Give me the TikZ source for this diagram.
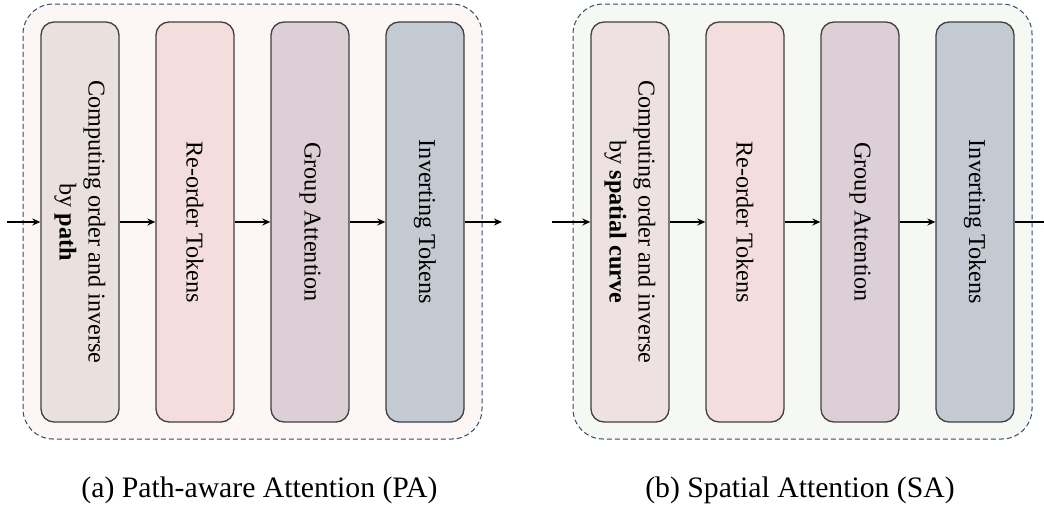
\documentclass[tikz,border=0pt]{standalone}
\usepackage{fontspec}
\setmainfont{Liberation Serif}
\usetikzlibrary{arrows.meta}

\definecolor{panelline}{HTML}{34496E}
\definecolor{bgpa}{HTML}{FCF6F4}
\definecolor{bgsa}{HTML}{F6F8F3}
\definecolor{boxline}{HTML}{404040}
\definecolor{orderpa}{HTML}{EAE0DD}
\definecolor{ordersa}{HTML}{EDE2E1}
\definecolor{reorder}{HTML}{F3DEDD}
\definecolor{groupatt}{HTML}{DCCFD6}
\definecolor{invert}{HTML}{C3CAD1}

\begin{document}
\begin{tikzpicture}[x=1pt,y=-1pt,
  panel/.style={draw=panelline, dash pattern=on 5pt off 3pt, line width=1pt,
    rounded corners=30pt, minimum width=459pt, minimum height=435pt, inner sep=0pt},
  stage/.style={draw=boxline, line width=1.3pt, rounded corners=13pt, rotate=-90,
    minimum width=400pt, minimum height=78pt, inner sep=0pt, align=center,
    font=\fontsize{24.2}{29}\selectfont},
  flow/.style={line width=1.3pt, -{Stealth[length=8pt,width=7pt]}},
  caption/.style={font=\fontsize{29.7}{34}\selectfont, anchor=base}]
\useasboundingbox (0,0) rectangle (1044,506);

% ---------- (a) path-aware attention ----------
\node[panel, fill=bgpa] (pa) at (252.5,221.5) {};
\node[stage, fill=orderpa] (a1) at (80,222) {Computing order and inverse\\by \textbf{path}};
\node[stage, fill=reorder] (a2) at (195,222) {Re-order Tokens};
\node[stage, fill=groupatt] (a3) at (310,222) {Group Attention};
\node[stage, fill=invert] (a4) at (425,222) {Inverting Tokens};
\coordinate (ain) at (7,222);
\coordinate (aout) at (502,222);
\draw[flow] (ain) -- (a1);
\draw[flow] (a1) -- (a2);
\draw[flow] (a2) -- (a3);
\draw[flow] (a3) -- (a4);
\draw[flow] (a4) -- (aout);
\node[caption] (capa) at (259.5,497) {(a) Path-aware Attention (PA)};

% ---------- (b) spatial attention ----------
\node[panel, fill=bgsa] (sa) at (802.5,221.5) {};
\node[stage, fill=ordersa] (b1) at (630,222) {Computing order and inverse\\by \textbf{spatial curve}};
\node[stage, fill=reorder] (b2) at (745,222) {Re-order Tokens};
\node[stage, fill=groupatt] (b3) at (860,222) {Group Attention};
\node[stage, fill=invert] (b4) at (975,222) {Inverting Tokens};
\coordinate (bin) at (552,222);
\coordinate (bout) at (1052,222);
\draw[flow] (bin) -- (b1);
\draw[flow] (b1) -- (b2);
\draw[flow] (b2) -- (b3);
\draw[flow] (b3) -- (b4);
\draw[flow] (b4) -- (bout);
\node[caption] (capb) at (800,497) {(b) Spatial Attention (SA)};
\end{tikzpicture}
\end{document}
